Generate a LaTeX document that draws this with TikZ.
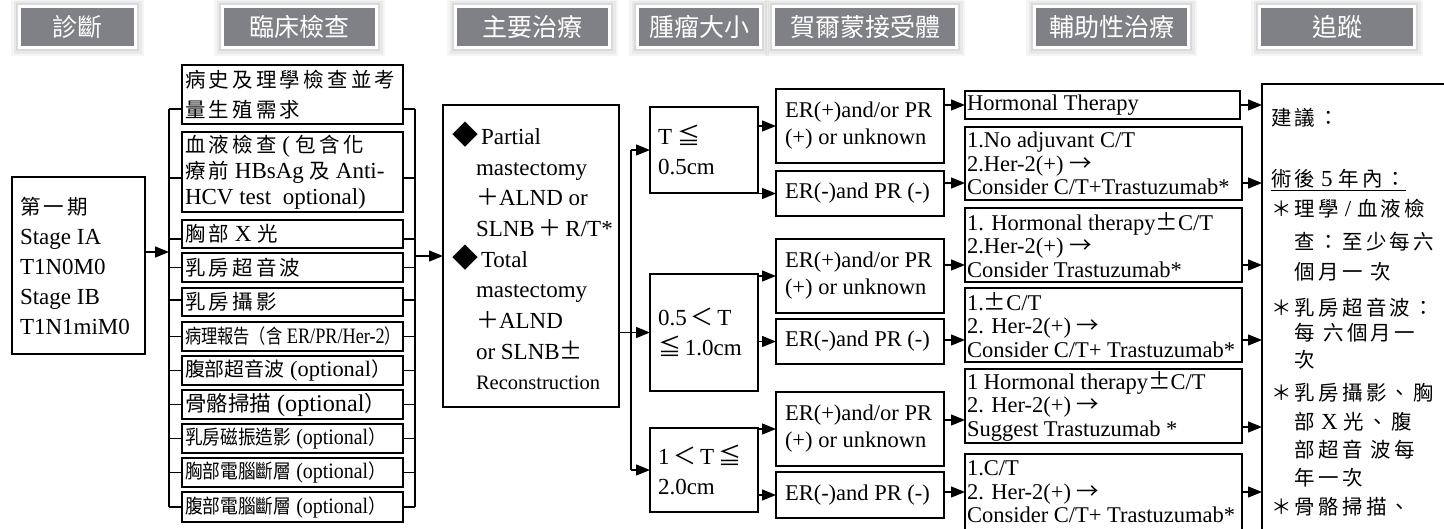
\documentclass[tikz,border=0pt]{standalone}
\usepackage{fontspec}
\usepackage{graphicx}
\setmainfont{Liberation Serif}
\newfontfamily\cjk{Noto Sans CJK TC}
\newfontfamily\cjkls[Scale=0.89,LetterSpace=16]{Noto Sans CJK TC}
\newfontfamily\cjksm[Scale=0.89]{Noto Sans CJK TC}
\newcommand{\zh}[1]{{\cjkls #1}}
\newcommand{\zn}[1]{{\cjksm #1}}
\newcommand{\zc}[1]{{\cjk #1}}
\usetikzlibrary{arrows.meta}
\definecolor{hdrgray}{RGB}{128,129,134}
\begin{document}
\begin{tikzpicture}[x=1pt,y=-1pt,
  ln/.style={line width=1.3pt},
  arr/.style={line width=1.3pt,-{Triangle[length=14pt,width=11pt]}},
  box/.style={draw,line width=1.3pt,anchor=north west,inner sep=0pt,outer sep=0pt},
  txt/.style={anchor=west,inner sep=0pt,outer sep=0pt,align=left},
  f23/.style={font=\fontsize{23}{30}\selectfont},
  hdr/.style={fill=hdrgray,text=white,font=\fontsize{25}{28}\cjk,minimum height=38pt,inner sep=0pt,outer sep=0pt,
    preaction={draw=black,draw opacity=0.04,line width=20pt},
    preaction={draw=black,draw opacity=0.05,line width=15pt},
    preaction={draw=black,draw opacity=0.07,line width=10pt},
    preaction={draw=white,line width=6pt}},
  ftxt/.style={anchor=west,inner sep=0pt,font=\fontsize{23}{23}\selectfont}
]
\useasboundingbox (0,0) rectangle (1444,528);

% headers
\node[hdr,minimum width=113pt] (H1) at (77.5,27) {診斷};
\node[hdr,minimum width=151pt] (H2) at (299.5,27) {臨床檢查};
\node[hdr,minimum width=151pt] (H3) at (532.5,27) {主要治療};
\node[hdr,minimum width=120pt] (H4) at (699,27) {腫瘤大小};
\node[hdr,minimum width=180pt] (H5) at (865,27) {賀爾蒙接受體};
\node[hdr,minimum width=151pt] (H6) at (1111.5,27) {輔助性治療};
\node[hdr,minimum width=152pt] (H7) at (1337,27) {追蹤};

% stage box
\node[box,minimum width=133pt,minimum height=177pt] (S) at (12,177) {};
\node[txt,f23] (St) at ([xshift=8pt]S.west) {\zh{第一期}\\Stage IA\\T1N0M0\\Stage IB\\T1N1miM0};

% exam boxes
\node[box,minimum width=221pt,minimum height=59pt] (E1) at (182,65) {};
\node[box,minimum width=221pt,minimum height=80pt] (E2) at (182,132) {};
\node[box,minimum width=221pt,minimum height=28pt] (E3) at (182,220) {};
\node[box,minimum width=221pt,minimum height=29pt] (E4) at (182,253) {};
\node[box,minimum width=221pt,minimum height=28pt] (E5) at (182,288) {};
\node[box,minimum width=221pt,minimum height=29pt] (E6) at (182,322) {};
\node[box,minimum width=221pt,minimum height=29pt] (E7) at (182,356) {};
\node[box,minimum width=221pt,minimum height=29pt] (E8) at (182,390) {};
\node[box,minimum width=221pt,minimum height=29pt] (E9) at (182,424) {};
\node[box,minimum width=221pt,minimum height=29pt] (E10) at (182,458) {};
\node[box,minimum width=221pt,minimum height=30pt] (E11) at (182,492) {};

\node[txt,f23] (E1t) at ([xshift=3pt]E1.west) {\zh{病史及理學檢查並考}\\\zh{量生殖需求}};
\node[txt,font=\fontsize{23}{26}\selectfont] (E2t) at ([xshift=3pt]E2.west) {\zh{血液檢查} ( \zh{包含化}\\\zh{療前} HBsAg \zh{及} Anti-\\HCV test\ \ optional)};
\node[txt,f23] (E3t) at ([xshift=3pt]E3.west) {\zh{胸部} X \zh{光}};
\node[txt,f23] (E4t) at ([xshift=3pt]E4.west) {\zh{乳房超音波}};
\node[txt,f23] (E5t) at ([xshift=3pt]E5.west) {\zh{乳房攝影}};
\node[txt,font=\fontsize{22}{24}\selectfont] (E6t) at ([xshift=3pt]E6.west) {\resizebox{216pt}{\height}{\zn{病理報告（含} ER/PR/Her-2\zn{）}}};
\node[txt,font=\fontsize{22}{24}\selectfont] (E7t) at ([xshift=3pt]E7.west) {\resizebox{206pt}{\height}{\zn{腹部超音波} (optional\zn{）}}};
\node[txt,font=\fontsize{24}{26}\selectfont] (E8t) at ([xshift=3pt]E8.west) {\resizebox{201pt}{\height}{\zn{骨骼掃描} (optional\zn{）}}};
\node[txt,font=\fontsize{22}{24}\selectfont] (E9t) at ([xshift=3pt]E9.west) {\resizebox{201pt}{\height}{\zn{乳房磁振造影} (optional\zn{）}}};
\node[txt,font=\fontsize{22}{24}\selectfont] (E10t) at ([xshift=3pt]E10.west) {\resizebox{201pt}{\height}{\zn{胸部電腦斷層} (optional\zn{）}}};
\node[txt,font=\fontsize{22}{24}\selectfont] (E11t) at ([xshift=3pt]E11.west) {\resizebox{201pt}{\height}{\zn{腹部電腦斷層} (optional\zn{）}}};

% main treatment
\node[box,minimum width=176pt,minimum height=302pt] (M) at (443,105) {};
\node[txt,font=\fontsize{23}{30.7}\selectfont] (Mt) at ([xshift=9pt]M.west) {%
\makebox[29pt][l]{\zc{\fontsize{26}{30}\selectfont ◆}}Partial\\
\hspace*{24pt}mastectomy\\
\hspace*{24pt}\zc{＋}ALND or\\
\hspace*{24pt}SLNB\,\zc{＋}\,R/T*\\
\makebox[29pt][l]{\zc{\fontsize{26}{30}\selectfont ◆}}Total\\
\hspace*{24pt}mastectomy\\
\hspace*{24pt}\zc{＋}ALND\\
\hspace*{24pt}or SLNB\zc{±}\\
\hspace*{24pt}{\fontsize{20.5}{30}\selectfont Reconstruction}};

% tumor size
\node[box,minimum width=108pt,minimum height=86pt] (T1) at (650,107) {};
\node[box,minimum width=108pt,minimum height=117pt] (T2) at (650,274) {};
\node[box,minimum width=108pt,minimum height=84pt] (T3) at (650,428) {};
\node[txt,f23] (T1t) at ([xshift=8pt]T1.west) {T \zc{≦}\\0.5cm};
\node[txt,f23] (T2t) at ([xshift=8pt]T2.west) {0.5\,\zc{＜}\,T\\\zc{≦}\,1.0cm};
\node[txt,f23] (T3t) at ([xshift=8pt]T3.west) {1\,\zc{＜}\,T\,\zc{≦}\\2.0cm};

% receptor
\foreach \n/\yy/\hh in {ER1/89/74,ER2/171/45,ER3/239/74,ER4/319/45,ER5/392/74,ER6/472/46}
  \node[box,minimum width=168pt,minimum height=\hh pt] (\n) at (776,\yy) {};
\node[txt,font=\fontsize{22.5}{27}\selectfont] (ER1t) at ([xshift=9pt]ER1.west) {ER(+)and/or PR\\(+) or unknown};
\node[txt,font=\fontsize{22.5}{27}\selectfont] (ER2t) at ([xshift=9pt]ER2.west) {ER(-)and PR (-)};
\node[txt,font=\fontsize{22.5}{27}\selectfont] (ER3t) at ([xshift=9pt]ER3.west) {ER(+)and/or PR\\(+) or unknown};
\node[txt,font=\fontsize{22.5}{27}\selectfont] (ER4t) at ([xshift=9pt]ER4.west) {ER(-)and PR (-)};
\node[txt,font=\fontsize{22.5}{27}\selectfont] (ER5t) at ([xshift=9pt]ER5.west) {ER(+)and/or PR\\(+) or unknown};
\node[txt,font=\fontsize{22.5}{27}\selectfont] (ER6t) at ([xshift=9pt]ER6.west) {ER(-)and PR (-)};

% adjuvant
\node[box,minimum width=275pt,minimum height=28pt] (A1) at (965,91) {};
\node[box,minimum width=277pt,minimum height=73pt] (A2) at (965,127) {};
\node[box,minimum width=277pt,minimum height=74pt] (A3) at (965,208) {};
\node[box,minimum width=277pt,minimum height=74pt] (A4) at (965,288) {};
\node[box,minimum width=277pt,minimum height=74pt] (A5) at (965,369) {};
\node[box,minimum width=277pt,minimum height=76pt] (A6) at (965,454) {};
\tikzset{atx/.style={txt,font=\fontsize{22.5}{23.5}\selectfont}}
\node[atx] (A1t) at ([xshift=2pt]A1.west) {Hormonal Therapy};
\node[atx] (A2t) at ([xshift=2pt]A2.west) {1.No adjuvant C/T\\2.Her-2(+) \zc{→}\\Consider C/T+Trastuzumab*};
\node[atx] (A3t) at ([xshift=2pt]A3.west) {1. Hormonal therapy\zc{±}C/T\\2.Her-2(+) \zc{→}\\Consider Trastuzumab*};
\node[atx] (A4t) at ([xshift=2pt]A4.west) {1.\zc{±}C/T\\2. Her-2(+) \zc{→}\\Consider C/T+ Trastuzumab*};
\node[atx] (A5t) at ([xshift=2pt]A5.west) {1 Hormonal therapy\zc{±}C/T\\2. Her-2(+) \zc{→}\\Suggest Trastuzumab *};
\node[atx] (A6t) at ([xshift=2pt]A6.west) {1.C/T\\2. Her-2(+) \zc{→}\\Consider C/T+ Trastuzumab*};

% follow-up box
\node[anchor=north west,minimum width=200pt,minimum height=460pt,inner sep=0pt,outer sep=0pt] (F) at (1262,84) {};
\draw[ln] (F.south west) -- (F.north west) -- (F.north east);
\node[ftxt] (f1) at (1271,118) {\zh{建議：}};
\node[ftxt] (f2) at (1271,180) {\underline{\zh{術後} 5 \zh{年內：}}};
\node[ftxt] (f3) at (1271,209) {\zh{＊理學} / \zh{血液檢}};
\node[ftxt] (f4) at (1271,242) {\zh{　查：至少每六}};
\node[ftxt] (f5) at (1271,272) {\zh{　個月一 次}};
\node[ftxt] (f6) at (1271,308) {\zh{＊乳房超音波：}};
\node[ftxt] (f7) at (1271,333) {\zh{　每 六個月一}};
\node[ftxt] (f8) at (1271,360) {\zh{　次}};
\node[ftxt] (f9) at (1271,393) {\zh{＊乳房攝影、胸}};
\node[ftxt] (f10) at (1271,422) {\zh{　部} X \zh{光、腹}};
\node[ftxt] (f11) at (1271,450) {\zh{　部超音 波每}};
\node[ftxt] (f12) at (1271,478) {\zh{　年一次}};
\node[ftxt] (f13) at (1271,507) {\zh{＊骨骼掃描、}};

% connectors
\coordinate (lb) at (169,0);
\coordinate (rb) at (415,0);
\coordinate (tb) at (631,0);
\foreach \n/\s in {E1/-14.5,E2/-6,E3/-5,E4/0,E5/2,E6/0,E7/0,E8/0,E9/0,E10/0,E11/0}{
  \coordinate (L\n) at ([yshift=\s pt]\n.west);
  \coordinate (R\n) at ([yshift=\s pt]\n.east);
  \draw[ln] (L\n) -- (L\n -| lb);
  \draw[ln] (R\n) -- (R\n -| rb);
}
\draw[ln] (LE1 -| lb) -- (LE11 -| lb);
\draw[ln] (RE1 -| rb) -- (RE11 -| rb);
\coordinate (Sout) at ([yshift=13.5pt]S.east);
\draw[arr] (Sout) -- (Sout -| lb);
\draw[arr] (M.west -| rb) -- (M.west);

\draw[ln] (tb |- T1.west) -- (tb |- T3.west);
\draw[arr] (tb |- T1.west) -- (T1.west);
\draw[arr] (tb |- T3.west) -- (T3.west);
\draw[arr] (M.east |- T2.west) -- (T2.west);

\draw[arr] (T1.east |- ER1.west) -- (ER1.west);
\draw[arr] (T1.east |- ER2.west) -- (ER2.west);
\draw[arr] (T2.east |- ER3.west) -- (ER3.west);
\draw[arr] (T2.east |- ER4.west) -- (ER4.west);
\draw[arr] (T3.east |- ER5.west) -- (ER5.west);
\draw[arr] (T3.east |- ER6.west) -- (ER6.west);

\coordinate (a1) at (A1.west);
\coordinate (a2) at ([yshift=-19.5pt]A2.west);
\coordinate (a3) at ([yshift=-20pt]A3.west);
\coordinate (a4) at ([yshift=-15pt]A4.west);
\coordinate (a5) at ([yshift=-14pt]A5.west);
\coordinate (a6) at (A6.west);
\coordinate (b1) at (A1.east);
\coordinate (b2) at ([yshift=-19.5pt]A2.east);
\coordinate (b3) at ([yshift=-20pt]A3.east);
\coordinate (b4) at ([yshift=-15pt]A4.east);
\coordinate (b5) at ([yshift=-21pt]A5.east);
\coordinate (b6) at (A6.east);
\foreach \k in {1,...,6}{
  \draw[arr] (ER\k.east |- a\k) -- (a\k);
  \draw[arr] (b\k) -- (b\k -| F.west);
}
\end{tikzpicture}
\end{document}
